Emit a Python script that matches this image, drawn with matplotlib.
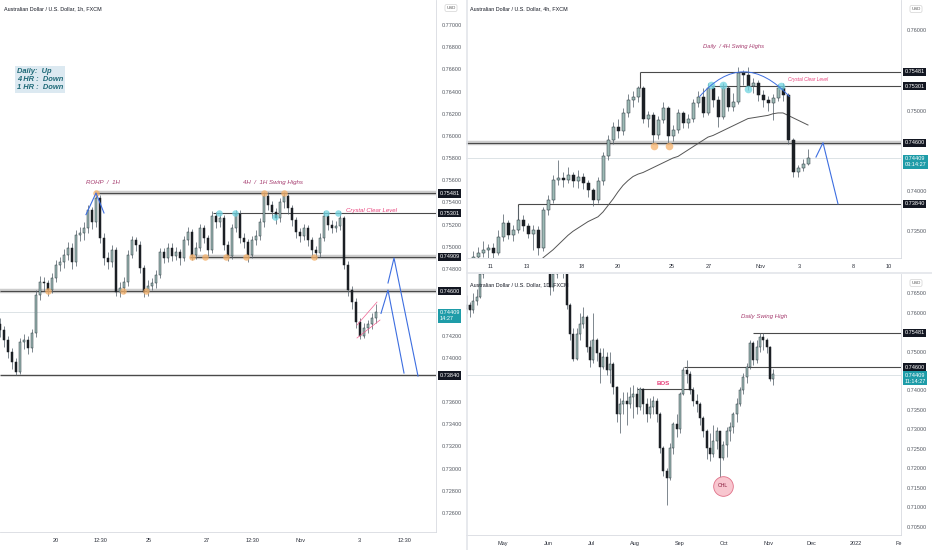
import numpy as np
import matplotlib
matplotlib.use("Agg")
import matplotlib.pyplot as plt
from matplotlib.path import Path
from matplotlib.patches import PathPatch
from matplotlib.transforms import blended_transform_factory, offset_copy

plt.rcParams['font.family'] = ['Liberation Sans', 'DejaVu Sans']

# ---- 1h panel (left) ----
L_open0 = 0.7430
L_close = [0.7425, 0.7416, 0.7405, 0.7396, 0.7387, 0.7414, 0.7416, 0.7409, 0.7422, 0.7457,
           0.7468, 0.7467, 0.7461, 0.7472, 0.7484, 0.7486, 0.7493, 0.7499, 0.7486, 0.7511,
           0.7512, 0.7517, 0.7533, 0.7522, 0.7544, 0.7508, 0.7490, 0.7486, 0.7497, 0.7459,
           0.7463, 0.7468, 0.7493, 0.7506, 0.7502, 0.7481, 0.7459, 0.7465, 0.7467, 0.7475,
           0.7495, 0.7490, 0.7499, 0.7492, 0.7495, 0.7490, 0.7506, 0.7513, 0.7493, 0.7499,
           0.7517, 0.7508, 0.7497, 0.7528, 0.7522, 0.7526, 0.7502, 0.7492, 0.7517, 0.7530,
           0.7508, 0.7504, 0.7493, 0.7506, 0.7510, 0.7522, 0.7546, 0.7538, 0.7531, 0.7526,
           0.7540, 0.7546, 0.7535, 0.7524, 0.7513, 0.7510, 0.7517, 0.7506, 0.7497, 0.7494,
           0.7508, 0.7528, 0.7520, 0.7517, 0.7519, 0.7526, 0.7484, 0.7461, 0.7450, 0.7432,
           0.7420, 0.7427, 0.7430, 0.7436, 0.7441]
L_high = [0.7436, 0.7429, 0.7420, 0.7409, 0.7400, 0.7418, 0.7421, 0.7420, 0.7426, 0.7461,
          0.7474, 0.7473, 0.7470, 0.7476, 0.7488, 0.7491, 0.7498, 0.7504, 0.7503, 0.7515,
          0.7518, 0.7522, 0.7538, 0.7536, 0.7548, 0.7547, 0.7512, 0.7495, 0.7502, 0.7500,
          0.7468, 0.7473, 0.7497, 0.7510, 0.7509, 0.7505, 0.7484, 0.7470, 0.7472, 0.7479,
          0.7499, 0.7499, 0.7503, 0.7503, 0.7500, 0.7498, 0.7510, 0.7518, 0.7516, 0.7504,
          0.7521, 0.7520, 0.7511, 0.7532, 0.7531, 0.7530, 0.7529, 0.7505, 0.7521, 0.7533,
          0.7533, 0.7512, 0.7507, 0.7510, 0.7515, 0.7526, 0.7549, 0.7549, 0.7541, 0.7535,
          0.7544, 0.7549, 0.7548, 0.7538, 0.7527, 0.7517, 0.7521, 0.7520, 0.7509, 0.7501,
          0.7512, 0.7532, 0.7531, 0.7524, 0.7523, 0.7532, 0.7528, 0.7487, 0.7465, 0.7454,
          0.7436, 0.7431, 0.7434, 0.7440, 0.7448]
L_low = [0.7419, 0.7410, 0.7400, 0.7390, 0.7384, 0.7385, 0.7408, 0.7403, 0.7405, 0.7419,
         0.7452, 0.7460, 0.7456, 0.7458, 0.7468, 0.7478, 0.7481, 0.7488, 0.7480, 0.7483,
         0.7505, 0.7506, 0.7512, 0.7516, 0.7518, 0.7503, 0.7484, 0.7480, 0.7482, 0.7456,
         0.7455, 0.7458, 0.7465, 0.7490, 0.7496, 0.7476, 0.7455, 0.7456, 0.7461, 0.7463,
         0.7472, 0.7485, 0.7486, 0.7487, 0.7488, 0.7484, 0.7487, 0.7502, 0.7488, 0.7489,
         0.7496, 0.7503, 0.7492, 0.7494, 0.7517, 0.7518, 0.7497, 0.7487, 0.7489, 0.7513,
         0.7503, 0.7499, 0.7486, 0.7490, 0.7502, 0.7506, 0.7518, 0.7533, 0.7526, 0.7521,
         0.7522, 0.7535, 0.7530, 0.7519, 0.7508, 0.7504, 0.7506, 0.7501, 0.7492, 0.7489,
         0.7491, 0.7505, 0.7515, 0.7512, 0.7513, 0.7515, 0.7480, 0.7456, 0.7444, 0.7427,
         0.7417, 0.7418, 0.7422, 0.7426, 0.7431]
L_yticks = [0.726, 0.728, 0.730, 0.732, 0.734, 0.736, 0.740, 0.742, 0.748,
            0.750, 0.752, 0.754, 0.756, 0.758, 0.760, 0.762, 0.764, 0.766, 0.768, 0.770]
L_xticks = [14, 25.25, 37.25, 51.75, 63.25, 75.25, 89.75, 101.25]
L_xlabels = ['20', '12:30', '25', '27', '12:30', 'Nov', '3', '12:30']

# ---- 4h panel (top right) ----
T_open0 = 0.7312
T_close = [0.7318, 0.7323, 0.7327, 0.7329, 0.7323, 0.7343, 0.7360, 0.7345, 0.7352, 0.7364,
           0.7356, 0.7347, 0.7352, 0.7329, 0.7376, 0.7389, 0.7414, 0.7416, 0.7414, 0.7420,
           0.7412, 0.7418, 0.7410, 0.7401, 0.7389, 0.7412, 0.7443, 0.7463, 0.7480, 0.7474,
           0.7497, 0.7513, 0.7517, 0.7528, 0.7490, 0.7494, 0.7470, 0.7488, 0.7503, 0.7468,
           0.7476, 0.7497, 0.7484, 0.7490, 0.7509, 0.7517, 0.7497, 0.7528, 0.7513, 0.7492,
           0.7528, 0.7505, 0.7511, 0.7546, 0.7544, 0.7530, 0.7534, 0.7519, 0.7513, 0.7509,
           0.7515, 0.7528, 0.7519, 0.7463, 0.7424, 0.7428, 0.7434, 0.7441]
T_high = [0.7325, 0.7330, 0.7338, 0.7334, 0.7335, 0.7352, 0.7372, 0.7364, 0.7358, 0.7382,
          0.7370, 0.7360, 0.7358, 0.7356, 0.7380, 0.7395, 0.7420, 0.7439, 0.7424, 0.7430,
          0.7424, 0.7426, 0.7423, 0.7414, 0.7404, 0.7418, 0.7448, 0.7470, 0.7486, 0.7490,
          0.7503, 0.7520, 0.7524, 0.7530, 0.7531, 0.7500, 0.7498, 0.7493, 0.7511, 0.7506,
          0.7482, 0.7502, 0.7500, 0.7496, 0.7514, 0.7524, 0.7528, 0.7534, 0.7532, 0.7518,
          0.7534, 0.7530, 0.7522, 0.7554, 0.7550, 0.7554, 0.7540, 0.7538, 0.7525, 0.7518,
          0.7520, 0.7533, 0.7534, 0.7522, 0.7466, 0.7432, 0.7440, 0.7452]
T_low = [0.7305, 0.7312, 0.7318, 0.7310, 0.7315, 0.7320, 0.7338, 0.7340, 0.7338, 0.7348,
         0.7350, 0.7342, 0.7327, 0.7320, 0.7325, 0.7370, 0.7385, 0.7408, 0.7405, 0.7410,
         0.7405, 0.7404, 0.7402, 0.7392, 0.7381, 0.7385, 0.7408, 0.7438, 0.7458, 0.7466,
         0.7470, 0.7492, 0.7505, 0.7510, 0.7485, 0.7480, 0.7458, 0.7465, 0.7485, 0.7458,
         0.7462, 0.7472, 0.7478, 0.7478, 0.7486, 0.7504, 0.7492, 0.7494, 0.7505, 0.7480,
         0.7490, 0.7500, 0.7500, 0.7508, 0.7532, 0.7526, 0.7522, 0.7512, 0.7505, 0.7500,
         0.7488, 0.7512, 0.7512, 0.7458, 0.7418, 0.7418, 0.7425, 0.7432]
T_ma_start = 14
T_ma = [0.7317, 0.7322, 0.7327, 0.7333, 0.7339, 0.7345, 0.7350, 0.7354, 0.7358, 0.7362,
        0.7365, 0.7368, 0.7374, 0.7382, 0.7390, 0.7399, 0.7407, 0.7413, 0.7418, 0.7421,
        0.7423, 0.7426, 0.7429, 0.7432, 0.7435, 0.7438, 0.7441, 0.7443, 0.7447, 0.7451,
        0.7455, 0.7459, 0.7463, 0.7467, 0.7469, 0.7472, 0.7475, 0.7478, 0.7481, 0.7484,
        0.7487, 0.7490, 0.7491, 0.7492, 0.7493, 0.7494, 0.7496, 0.7497, 0.7497, 0.7494,
        0.7491, 0.7488, 0.7485, 0.7482]
T_yticks = [0.735, 0.740, 0.750, 0.760]
T_xticks = [3.6, 10.8, 21.8, 29, 39.8, 47.2, 57.6, 65.2, 76, 83.2]
T_xlabels = ['11', '13', '18', '20', '25', '27', 'Nov', '3', '8', '10']

# ---- 1D panel (bottom right) ----
D_open0 = 0.7610
D_close = [0.7620, 0.7607, 0.7630, 0.7640, 0.7700, 0.7720, 0.7745, 0.7760, 0.7790, 0.7810,
           0.7760, 0.7720, 0.7740, 0.7770, 0.7780, 0.7750, 0.7730, 0.7760, 0.7780, 0.7760,
           0.7770, 0.7750, 0.7740, 0.7730, 0.7720, 0.7665, 0.7700, 0.7720, 0.7730, 0.7710,
           0.7620, 0.7546, 0.7480, 0.7546, 0.7572, 0.7590, 0.7512, 0.7477, 0.7529, 0.7495,
           0.7460, 0.7486, 0.7452, 0.7469, 0.7408, 0.7339, 0.7365, 0.7374, 0.7365, 0.7382,
           0.7391, 0.7357, 0.7404, 0.7365, 0.7339, 0.7357, 0.7374, 0.7339, 0.7253, 0.7193,
           0.7175, 0.7253, 0.7313, 0.7300, 0.7391, 0.7452, 0.7443, 0.7400, 0.7374, 0.7365,
           0.7330, 0.7296, 0.7253, 0.7236, 0.7270, 0.7296, 0.7227, 0.7260, 0.7296, 0.7305,
           0.7339, 0.7365, 0.7400, 0.7435, 0.7460, 0.7521, 0.7477, 0.7512, 0.7538, 0.7529,
           0.7512, 0.7430, 0.7441]
D_high = [0.7645, 0.7628, 0.7650, 0.7660, 0.7720, 0.7740, 0.7765, 0.7780, 0.7810, 0.7830,
          0.7815, 0.7770, 0.7760, 0.7790, 0.7800, 0.7790, 0.7760, 0.7775, 0.7795, 0.7790,
          0.7785, 0.7780, 0.7765, 0.7750, 0.7745, 0.7725, 0.7720, 0.7740, 0.7750, 0.7740,
          0.7712, 0.7625, 0.7560, 0.7560, 0.7600, 0.7615, 0.7595, 0.7530, 0.7600, 0.7535,
          0.7510, 0.7510, 0.7500, 0.7500, 0.7472, 0.7412, 0.7380, 0.7395, 0.7395, 0.7410,
          0.7415, 0.7410, 0.7410, 0.7406, 0.7380, 0.7380, 0.7385, 0.7380, 0.7345, 0.7258,
          0.7200, 0.7265, 0.7320, 0.7339, 0.7395, 0.7460, 0.7478, 0.7450, 0.7410, 0.7390,
          0.7370, 0.7335, 0.7300, 0.7290, 0.7310, 0.7305, 0.7280, 0.7270, 0.7305, 0.7320,
          0.7345, 0.7380, 0.7410, 0.7445, 0.7470, 0.7530, 0.7528, 0.7530, 0.7548, 0.7548,
          0.7535, 0.7515, 0.7455]
D_low = [0.7600, 0.7590, 0.7598, 0.7620, 0.7638, 0.7690, 0.7712, 0.7735, 0.7750, 0.7775,
         0.7745, 0.7705, 0.7710, 0.7730, 0.7755, 0.7735, 0.7715, 0.7720, 0.7750, 0.7745,
         0.7745, 0.7735, 0.7725, 0.7710, 0.7705, 0.7645, 0.7655, 0.7690, 0.7710, 0.7690,
         0.7610, 0.7530, 0.7475, 0.7478, 0.7530, 0.7560, 0.7500, 0.7460, 0.7470, 0.7475,
         0.7420, 0.7455, 0.7440, 0.7420, 0.7390, 0.7320, 0.7290, 0.7340, 0.7310, 0.7355,
         0.7330, 0.7340, 0.7350, 0.7340, 0.7320, 0.7330, 0.7340, 0.7320, 0.7240, 0.7180,
         0.7106, 0.7170, 0.7236, 0.7280, 0.7290, 0.7388, 0.7420, 0.7390, 0.7360, 0.7345,
         0.7310, 0.7280, 0.7225, 0.7220, 0.7230, 0.7250, 0.7175, 0.7222, 0.7230, 0.7270,
         0.7290, 0.7320, 0.7360, 0.7390, 0.7420, 0.7455, 0.7465, 0.7470, 0.7500, 0.7505,
         0.7495, 0.7425, 0.7415]
D_yticks = [0.705, 0.710, 0.715, 0.720, 0.725, 0.730, 0.735, 0.740, 0.750, 0.760, 0.765]
D_xticks = [10.9, 24.4, 37.3, 50.5, 64, 77.2, 90.4, 103.3, 116.8, 129.7]
D_xlabels = ['May', 'Jun', 'Jul', 'Aug', 'Sep', 'Oct', 'Nov', 'Dec', '2022', 'Fe']

# levels
LAST = 0.74409
HI1, HI2, MID, LOW = 0.75481, 0.75301, 0.74909, 0.74600
BASE = 0.73840
BOS = 0.7404

UP, EDGE, DOWN, WICK = '#9dbab5', '#26323a', '#1b1f24', '#5b6770'
BLUE = '#3d6ee0'
PINK = '#e8407a'
MAGENTA = '#a53b6e'
ORANGE = '#f6b26b'
CYAN = '#6fd3e0'
TEAL_TAG = '#1e9ca8'
BLACK_TAG = '#131722'
TITLE = 'Australian Dollar / U.S. Dollar, {}, FXCM'


def candles(ax, first_open, close, high, low, w):
    c = np.array(close)
    o = np.r_[first_open, c[:-1]]
    x = np.arange(len(c))
    up = c >= o
    ax.vlines(x, low, high, color=WICK, lw=0.55, zorder=2)
    body = np.maximum(np.abs(c - o), 0.00004)
    bot = np.minimum(o, c)
    ax.bar(x[up], body[up], bottom=bot[up], width=w, color=UP, edgecolor=EDGE, lw=0.35, zorder=3)
    ax.bar(x[~up], body[~up], bottom=bot[~up], width=w, color=DOWN, edgecolor=DOWN, lw=0.35, zorder=3)


def style(ax, xlim, ylim, yticks, xt, xl):
    ax.set_xlim(xlim)
    ax.set_ylim(ylim)
    ax.yaxis.tick_right()
    ax.set_yticks(yticks)
    ax.set_yticklabels([f"{v:.5f}" for v in yticks])
    ax.set_xticks(xt)
    ax.set_xticklabels(xl)
    ax.tick_params(axis='y', length=0, labelsize=4, colors='#555a63', pad=4)
    ax.tick_params(axis='x', length=0, labelsize=4, colors='#2a2e39', pad=4)
    for s in ['left', 'top']:
        ax.spines[s].set_visible(False)
    for s in ['right', 'bottom']:
        ax.spines[s].set_color('#d8dbe0')
        ax.spines[s].set_linewidth(0.6)
    ax.axhline(LAST, color='#cfd8dc', lw=0.5, zorder=1)


def tag(ax, y, txt, fc=BLACK_TAG, two_lines=False):
    tr = blended_transform_factory(ax.transAxes, ax.transData)
    if two_lines:
        # first line sits on the price, second hangs below it
        tr = offset_copy(tr, fig=ax.figure, y=-2.5, units='points')
    ax.text(1.008, y, txt, transform=tr, ha='left', va='center', fontsize=4, color='white',
            linespacing=1.25, clip_on=False, zorder=6,
            bbox=dict(boxstyle='square,pad=0.28', fc=fc, ec='none'))


def level(ax, y, x0, x1, band=False, lw=0.8):
    if band:
        ax.hlines(y, x0, x1, color='#cdcdcd', lw=3.2, zorder=1)
    ax.hlines(y, x0, x1, color='#4a4a4a', lw=lw, zorder=1.5)


W, H = 932, 550
fig = plt.figure(figsize=(W / 100, H / 100), dpi=100)
fig.patch.set_facecolor('white')

# ======= left: 1h =======
axL = fig.add_axes([0, 18 / H, 436 / W, 532 / H])
style(axL, (0, 109), (0.72429, 0.77225), L_yticks, L_xticks, L_xlabels)
level(axL, HI1, 23.75, 109, band=True)
level(axL, HI2, 53.25, 109)
level(axL, MID, 47.5, 109, band=True)
level(axL, LOW, 0, 109, band=True)
level(axL, BASE, 0, 109, lw=1.0)
candles(axL, L_open0, L_close, L_high, L_low, 0.55)
axL.scatter([24, 66, 71, 12, 30.75, 36.5, 48, 51.25, 56.5, 61.5, 78.5],
            [HI1, HI1, HI1, LOW, LOW, LOW, MID, MID, MID, MID, MID],
            s=22, color=ORANGE, alpha=0.75, lw=0, zorder=4)
axL.scatter([54.75, 58.75, 81.5, 84.5, 68.75], [HI2, HI2, HI2, HI2, 0.7527],
            s=22, color=CYAN, alpha=0.75, lw=0, zorder=4)
axL.plot([21.5, 24, 26], [0.7529, 0.75485, 0.75305], color=BLUE, lw=0.8, zorder=5)
axL.plot([95.25, 97, 101], [0.7440, 0.7461, 0.73862], color=BLUE, lw=0.8, zorder=5)
axL.plot([97, 98.5, 104.5], [0.74674, 0.74899, 0.73835], color=BLUE, lw=0.8, zorder=5)
axL.plot([89.25, 95], [0.74178, 0.7434], color='#f06292', lw=0.5, zorder=5)
axL.plot([89.25, 94.25], [0.74295, 0.74502], color='#f06292', lw=0.5, zorder=5)
axL.text(25.75, 0.75584, 'ROHP  /  1H', fontsize=4.4, style='italic', color=MAGENTA,
         ha='center', va='center')
axL.text(68.3, 0.7558, '4H  /  1H Swing Highs', fontsize=4.4, style='italic', color=MAGENTA,
         ha='center', va='center')
axL.text(93, 0.7533, 'Crystal Clear Level', fontsize=4.3, style='italic', color=PINK,
         ha='center', va='center')
for y in [HI1, HI2, MID, LOW, BASE]:
    tag(axL, y, f"{y:.5f}")
tag(axL, LAST, f"{LAST:.5f}\n14:27", TEAL_TAG, two_lines=True)

# ======= top right: 4h =======
axT = fig.add_axes([466 / W, (H - 258) / H, 435 / W, 258 / H])
style(axT, (-1.4, 85.6), (0.73168, 0.76373), T_yticks, T_xticks, T_xlabels)
level(axT, HI1, 33.3, 85.6)
axT.vlines(33.3, 0.7528, HI1, color='#4a4a4a', lw=0.8, zorder=1.5)
level(axT, HI2, 47.6, 85.6)
level(axT, LOW, -1.4, 85.6, band=True)
level(axT, BASE, 9, 85.6)
axT.vlines(9, 0.7352, BASE, color='#4a4a4a', lw=0.8, zorder=1.5)
axT.plot(np.arange(T_ma_start, T_ma_start + len(T_ma)), T_ma, color='#555', lw=0.7, zorder=2.5)
candles(axT, T_open0, T_close, T_high, T_low, 0.6)
axT.scatter([36.2, 39.2], [0.7456, 0.7456], s=30, color=ORANGE, alpha=0.75, lw=0, zorder=4)
axT.scatter([47.6, 50, 55, 61.6], [0.7532, 0.7532, 0.7527, 0.7530], s=30, color=CYAN,
            alpha=0.75, lw=0, zorder=4)
arc = Path([(45.3, 0.75172), (54.0, 0.7579), (63.3, 0.75172)],
           [Path.MOVETO, Path.CURVE3, Path.CURVE3])
axT.add_patch(PathPatch(arc, fc='none', ec=BLUE, lw=0.7, zorder=5))
axT.plot([68.6, 70, 73], [0.74422, LOW, BASE], color=BLUE, lw=0.8, zorder=5)
axT.text(52.2, 0.7579, 'Daily  / 4H Swing Highs', fontsize=4.2, style='italic', color=MAGENTA,
         ha='center', va='center')
axT.text(63, 0.7538, 'Crystal Clear Level', fontsize=3.4, style='italic', color=PINK,
         ha='left', va='center')
for y in [HI1, HI2, LOW, BASE]:
    tag(axT, y, f"{y:.5f}")
tag(axT, LAST, f"{LAST:.5f}\n03:14:27", TEAL_TAG, two_lines=True)

# ======= bottom right: 1D =======
axD = fig.add_axes([466 / W, 15 / H, 435 / W, 261 / H])
style(axD, (-0.2, 130.3), (0.70286, 0.76992), D_yticks, D_xticks, D_xlabels)
level(axD, HI1, 85.8, 130.3)
level(axD, LOW, 65.3, 130.3)
axD.hlines(BOS, 51, 67.8, color='#4a4a4a', lw=0.8, zorder=1.5)
candles(axD, D_open0, D_close, D_high, D_low, 0.62)
axD.scatter([76.8], [0.71554], s=200, fc='#f8c6cf', ec='#e07088', lw=0.6, zorder=5)
axD.text(76.8, 0.71554, 'CHL', fontsize=3.8, color='#8a2040', ha='center', va='center', zorder=6)
axD.text(59.1, 0.74187, 'BOS', fontsize=4.4, color=PINK, ha='center', va='center',
         fontweight='bold')
axD.text(89.3, 0.7590, 'Daily Swing High', fontsize=4.4, style='italic', color=MAGENTA,
         ha='center', va='center')
for y in [HI1, LOW]:
    tag(axD, y, f"{y:.5f}")
tag(axD, LAST, f"{LAST:.5f}\n11:14:27", TEAL_TAG, two_lines=True)

# ---- chrome: titles, USD boxes, dividers, bias box ----
for px, py, tf in [(4, 9, '1h'), (470, 9, '4h'), (470, 285, '1D')]:
    fig.text(px / W, 1 - py / H, TITLE.format(tf), fontsize=3.9, color='#131722',
             ha='left', va='center')
for px, py in [(451, 8), (916, 9), (916, 283)]:
    fig.text(px / W, 1 - py / H, 'USD', fontsize=3.2, color='#555', ha='center', va='center',
             bbox=dict(boxstyle='round,pad=0.3', fc='white', ec='#c8c8c8', lw=0.4))
fig.add_artist(plt.Line2D([467 / W, 467 / W], [0, 1], color='#e3e5ea', lw=1.2))
fig.add_artist(plt.Line2D([467 / W, 1], [1 - 273 / H, 1 - 273 / H], color='#e3e5ea', lw=1.2))
fig.text(17 / W, 1 - 68 / H, 'Daily:  Up\n4 HR :  Down\n1 HR :  Down', fontsize=5.4,
         style='italic', fontweight='bold', color='#1f6a78', ha='left', va='top',
         linespacing=1.2, bbox=dict(boxstyle='square,pad=0.25', fc='#dce9f1', ec='none'))

fig.savefig('out.png', dpi=100, facecolor='white')
